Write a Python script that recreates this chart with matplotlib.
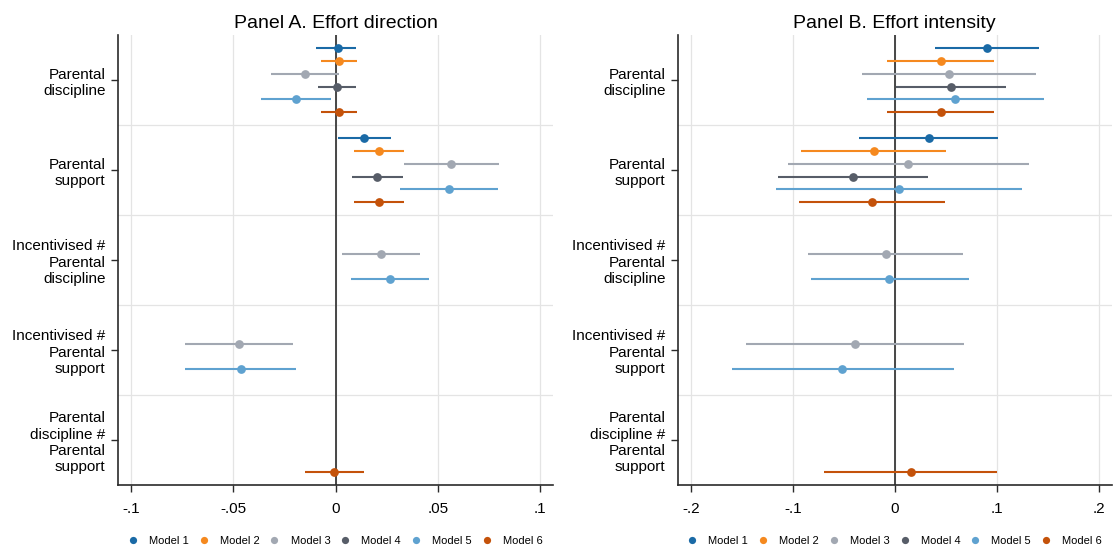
import matplotlib
matplotlib.use("Agg")
import matplotlib.pyplot as plt
from matplotlib.lines import Line2D
import numpy as np

plt.rcParams['font.family'] = ['Liberation Sans', 'DejaVu Sans']

# Row labels (top to bottom)
terms = [
    "Parental\ndiscipline",
    "Parental\nsupport",
    "Incentivised #\nParental\ndiscipline",
    "Incentivised #\nParental\nsupport",
    "Parental\ndiscipline #\nParental\nsupport",
]
models = ["Model 1", "Model 2", "Model 3", "Model 4", "Model 5", "Model 6"]
colors = ["#1a6aa6", "#f5891f", "#a2a8b2", "#575d68", "#5fa2d0", "#c4520a"]

# Panel A: effort direction -- (term index, model index, estimate, lower CI, upper CI)
direction = [
    (0, 0, 0.0010, -0.0093, 0.0101),
    (0, 1, 0.0016, -0.0073, 0.0107),
    (0, 2, -0.0150, -0.0317, 0.0018),
    (0, 3, 0.0005, -0.0086, 0.0098),
    (0, 4, -0.0194, -0.0364, -0.0023),
    (0, 5, 0.0016, -0.0073, 0.0107),
    (1, 0, 0.0138, 0.0010, 0.0270),
    (1, 1, 0.0211, 0.0091, 0.0333),
    (1, 2, 0.0564, 0.0333, 0.0797),
    (1, 3, 0.0205, 0.0080, 0.0332),
    (1, 4, 0.0555, 0.0317, 0.0792),
    (1, 5, 0.0213, 0.0091, 0.0337),
    (2, 2, 0.0223, 0.0034, 0.0411),
    (2, 4, 0.0267, 0.0075, 0.0459),
    (3, 2, -0.0473, -0.0733, -0.0208),
    (3, 4, -0.0463, -0.0733, -0.0195),
    (4, 5, -0.0007, -0.0150, 0.0140),
]

# Panel B: effort intensity
intensity = [
    (0, 0, 0.0906, 0.0390, 0.1417),
    (0, 1, 0.0453, -0.0075, 0.0977),
    (0, 2, 0.0531, -0.0323, 0.1381),
    (0, 3, 0.0547, 0.0007, 0.1088),
    (0, 4, 0.0590, -0.0277, 0.1463),
    (0, 5, 0.0450, -0.0081, 0.0974),
    (1, 0, 0.0332, -0.0355, 0.1017),
    (1, 1, -0.0208, -0.0922, 0.0502),
    (1, 2, 0.0130, -0.1049, 0.1313),
    (1, 3, -0.0414, -0.1144, 0.0323),
    (1, 4, 0.0042, -0.1167, 0.1245),
    (1, 5, -0.0225, -0.0938, 0.0492),
    (2, 2, -0.0091, -0.0850, 0.0671),
    (2, 4, -0.0052, -0.0824, 0.0727),
    (3, 2, -0.0388, -0.1456, 0.0681),
    (3, 4, -0.0515, -0.1600, 0.0577),
    (4, 5, 0.0160, -0.0691, 0.1007),
]

panels = [
    ("Panel A. Effort direction", direction, [-0.1, -0.05, 0, 0.05, 0.1],
     ["-.1", "-.05", "0", ".05", ".1"], 0.1063, [0.1058, 0.496]),
    ("Panel B. Effort intensity", intensity, [-0.2, -0.1, 0, 0.1, 0.2],
     ["-.2", "-.1", "0", ".1", ".2"], 0.2127, [0.608, 0.997]),
]

fig = plt.figure(figsize=(11.15, 5.49), dpi=100)
bottom, top = 0.1166, 0.936
spine_col = "#2b2b2b"
grid_col = "#e4e4e4"

for title, data, xt, xtl, lim, (l, r) in panels:
    ax = fig.add_axes([l, bottom, r - l, top - bottom])
    ax.set_xlim(-lim, lim)
    ax.set_ylim(len(terms) - 0.5, -0.5)
    for x in xt:
        ax.axvline(x, color=grid_col, lw=0.9, zorder=0)
    for b in np.arange(0.5, len(terms) - 0.5, 1.0):
        ax.axhline(b, color=grid_col, lw=0.9, zorder=0)
    ax.axvline(0, color="#3a3a3a", lw=1.3, zorder=1)
    for ti, mi, est, lo, hi in data:
        y = ti + (mi - 2.5) / 7.0
        ax.plot([lo, hi], [y, y], color=colors[mi], lw=1.5, solid_capstyle="butt", zorder=2)
        ax.plot(est, y, "o", color=colors[mi], ms=6.3, mec="none", zorder=3)
    ax.set_xticks(xt)
    ax.set_xticklabels(xtl, fontsize=11)
    ax.set_yticks(range(len(terms)))
    ax.set_yticklabels(terms, fontsize=11, ha="right", linespacing=1.2)
    ax.tick_params(axis="both", length=5, width=1.0, color=spine_col, pad=4)
    ax.tick_params(axis="x", pad=7)
    for s in ["top", "right"]:
        ax.spines[s].set_visible(False)
    for s in ["left", "bottom"]:
        ax.spines[s].set_color(spine_col)
        ax.spines[s].set_linewidth(1.2)
    ax.set_title(title, fontsize=14, pad=5)

    handles = [Line2D([], [], ls="none", marker="o", color=c, ms=5.2, mec="none") for c in colors]
    fig.legend(handles, models, loc="center", ncol=6, fontsize=8,
               bbox_to_anchor=((l + r) / 2, 0.0146), frameon=False,
               handlelength=0.8, handletextpad=1.05, columnspacing=0.95)

fig.savefig("out.png", dpi=100)
